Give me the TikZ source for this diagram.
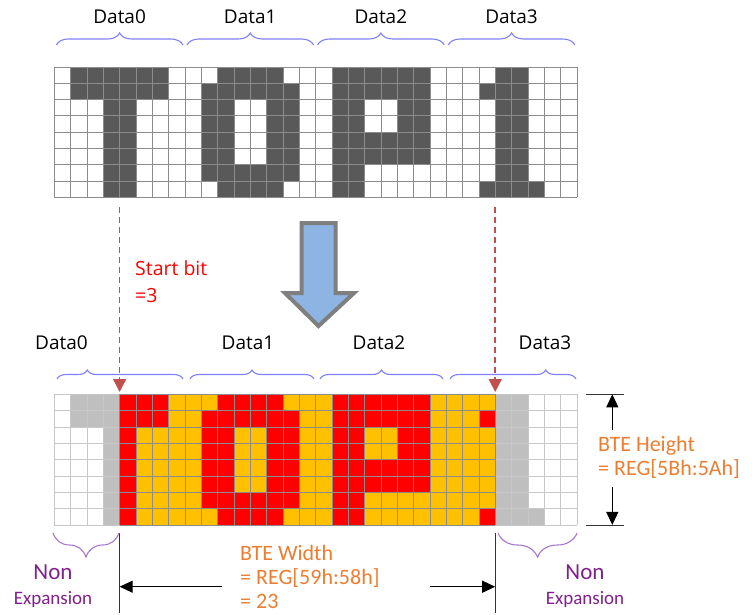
\documentclass[tikz,border=0pt]{standalone}
\usepackage{fontspec}
\setmainfont{Open Sans}
\newfontfamily\calfont{Carlito}
\usetikzlibrary{arrows.meta,decorations.pathreplacing}

\definecolor{cellDark}{RGB}{89,89,89}
\definecolor{cellRed}{RGB}{255,0,0}
\definecolor{cellGold}{RGB}{255,192,0}
\definecolor{cellGray}{RGB}{191,191,191}
\definecolor{gridLine}{RGB}{140,140,140}
\definecolor{gridLight}{RGB}{200,200,200}
\definecolor{braceBlue}{RGB}{128,128,255}
\definecolor{bracePurple}{RGB}{165,120,205}
\definecolor{txtOrange}{RGB}{237,125,49}
\definecolor{txtPurple}{RGB}{128,32,140}
\definecolor{guideRed}{RGB}{192,80,77}
\definecolor{arrowFill}{RGB}{141,180,226}
\definecolor{arrowEdge}{RGB}{127,127,127}

\begin{document}
\begin{tikzpicture}[x=1pt,y=-1pt,
  lbl/.style={inner sep=0pt, font=\fontsize{19}{21}\selectfont},
  redLbl/.style={inner sep=0pt, text=red, align=left, font=\fontsize{19.5}{27}\selectfont},
  orangeLbl/.style={inner sep=0pt, text=txtOrange, align=left, font=\calfont\fontsize{22}{24}\selectfont},
  purpleLbl/.style={inner sep=0pt, text=txtPurple, align=center, font=\calfont\fontsize{23}{25}\selectfont},
  blueBrace/.style={braceBlue, line width=1.1pt, decorate, decoration={brace, amplitude=#1}},
  purpleBrace/.style={bracePurple, line width=1.1pt, decorate, decoration={brace, amplitude=24pt}},
  guide/.style={guideRed, line width=1.5pt, dash pattern=on 6pt off 4pt, -{Triangle[length=13pt,width=13pt]}},
  dimLine/.style={black!80, line width=0.9pt},
  dimArrow/.style={black, line width=0.9pt, -{Triangle[length=13pt,width=12pt]}}]
\useasboundingbox (0,0) rectangle (752,614);
\def\cs{16.33}
\def\gx{54.3}
\def\ty{66.7}
\def\by{394.3}
\def\bits{0/{1,2,3,4,5,6,10,11,12,13,17,18,19,20,21,22,27,28},
  1/{1,2,3,4,5,6,9,10,11,12,13,14,17,18,19,20,21,22,26,27,28},
  2/{3,4,9,10,13,14,17,18,21,22,27,28},
  3/{3,4,9,10,13,14,17,18,21,22,27,28},
  4/{3,4,9,10,13,14,17,18,19,20,21,22,27,28},
  5/{3,4,9,10,13,14,17,18,19,20,21,22,27,28},
  6/{3,4,9,10,11,12,13,14,17,18,27,28},
  7/{3,4,10,11,12,13,17,18,26,27,28,29}}
%% ---- Source pattern ----
\foreach \r/\cols in \bits {
  \foreach \c in \cols
    \fill[cellDark] ({\gx+\c*\cs},{\ty+\r*\cs}) rectangle ++(\cs,\cs);
}
\foreach \i in {0,...,32}
  \draw[gridLine] ({\gx+\i*\cs},\ty) -- ++(0,{8*\cs});
\foreach \j in {0,...,8}
  \draw[gridLine] (\gx,{\ty+\j*\cs}) -- ++({32*\cs},0);
\foreach \i in {0,...,3}
{
  \node[lbl] (top\i) at ({\gx+(8*\i+4)*\cs},17) {Data\i};
  \draw[blueBrace=12pt] ({\gx+8*\i*\cs+2},45) -- ({\gx+8*(\i+1)*\cs-2},45);
}
%% ---- Expanded pattern ----
\fill[cellGold] ({\gx+4*\cs},\by) rectangle ++({23*\cs},{8*\cs});
\foreach \r/\cols in \bits {
  \foreach \c in \cols {
    \ifnum\c<4 \def\clr{cellGray}\else\ifnum\c>26 \def\clr{cellGray}\else\def\clr{cellRed}\fi\fi
    \fill[\clr] ({\gx+\c*\cs},{\by+\r*\cs}) rectangle ++(\cs,\cs);
  }
}
\foreach \i in {0,...,32}
  \draw[gridLight] ({\gx+\i*\cs},\by) -- ++(0,{8*\cs});
\foreach \j in {0,...,8}
  \draw[gridLight] (\gx,{\by+\j*\cs}) -- ++({32*\cs},0);
\foreach \i in {4,...,27}
  \draw[gridLine] ({\gx+\i*\cs},\by) -- ++(0,{8*\cs});
\foreach \j in {0,...,8}
  \draw[gridLine] ({\gx+4*\cs},{\by+\j*\cs}) -- ++({23*\cs},0);
\foreach \i/\x in {0/61.5,1/248,2/379,3/545}
  \node[lbl] (bot\i) at (\x,343) {Data\i};
\foreach \a/\b/\asp in {57/183/0.24,190/314/0.5,320/443/0.5,450/576/0.76}
  \draw[blueBrace=9pt, decoration={aspect=\asp}] (\a,379) -- (\b,379);
%% ---- Start / end guides ----
\coordinate (startTop) at ({\gx+4*\cs},207);
\coordinate (startBot) at ({\gx+4*\cs},392);
\coordinate (endTop) at ({\gx+27*\cs},207);
\coordinate (endBot) at ({\gx+27*\cs},392);
\draw[guide] (startTop) -- (startBot);
\draw[guide] (endTop) -- (endBot);
\node[redLbl, anchor=west] (startBit) at (135,281.5) {Start bit\\=3};
%% ---- Block arrow ----
\draw[arrowEdge, fill=arrowFill, line width=4pt]
  (301.5,223) -- (335.5,223) -- (335.5,293) -- (354,293)
  -- (318.5,326) -- (285,293) -- (301.5,293) -- cycle;
%% ---- BTE height ----
\coordinate (hTopL) at (585.7,\by);
\coordinate (hTopR) at (624,\by);
\coordinate (hBotL) at (585.7,{\by+8*\cs});
\coordinate (hBotR) at (624,{\by+8*\cs});
\coordinate (hUp) at (612.3,430);
\coordinate (hUpEnd) at (612.3,\by);
\coordinate (hDown) at (612.3,487);
\coordinate (hDownEnd) at (612.3,{\by+8*\cs});
\draw[dimLine] (hTopL) -- (hTopR);
\draw[dimLine] (hBotL) -- (hBotR);
\draw[dimArrow] (hUp) -- (hUpEnd);
\draw[dimArrow] (hDown) -- (hDownEnd);
\node[orangeLbl, anchor=west] (bteH) at (598,457) {BTE Height\\= REG[5Bh:5Ah]};
%% ---- BTE width ----
\coordinate (wL1) at ({\gx+4*\cs},533);
\coordinate (wL2) at ({\gx+4*\cs},613);
\coordinate (wR1) at ({\gx+27*\cs},533);
\coordinate (wR2) at ({\gx+27*\cs},613);
\coordinate (wLarr) at (222,586.7);
\coordinate (wLend) at ({\gx+4*\cs},586.7);
\coordinate (wRarr) at (430,586.7);
\coordinate (wRend) at ({\gx+27*\cs},586.7);
\draw[dimLine] (wL1) -- (wL2);
\draw[dimLine] (wR1) -- (wR2);
\draw[dimArrow] (wLarr) -- (wLend);
\draw[dimArrow] (wRarr) -- (wRend);
\node[orangeLbl, anchor=west] (bteW) at (240,577) {BTE Width\\= REG[59h:58h]\\= 23};
%% ---- Non expansion ----
\draw[purpleBrace] (119,533) -- (53,533);
\draw[purpleBrace] (577,533) -- (498,533);
\node[purpleLbl] (nonL) at (53,586) {Non\\{\fontsize{19}{22}\selectfont Expansion}};
\node[purpleLbl] (nonR) at (585,586) {Non\\{\fontsize{19}{22}\selectfont Expansion}};
\end{tikzpicture}
\end{document}
